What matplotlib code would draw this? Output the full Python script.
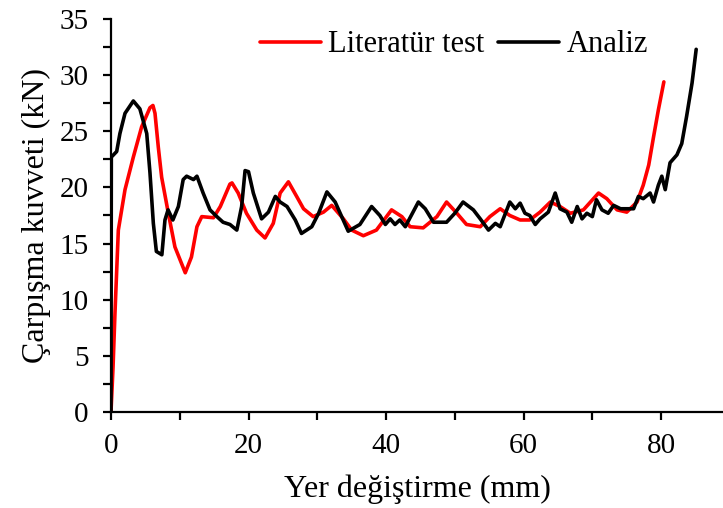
import numpy as np
import matplotlib.pyplot as plt

plt.rcParams['font.family'] = ['Liberation Serif', 'DejaVu Serif']

# Literatür test (red)
test_x = [0, 0.3, 0.58, 1.07, 2.04, 3.25, 4.46, 5.67, 6.1, 6.4, 6.88, 7.37, 8.34, 9.3, 10.8,
          11.7, 12.5, 13.2, 14.9, 15.9, 17.3, 17.6, 18.5, 19.7, 21.2, 22.4, 23.6, 24.6,
          25.8, 27.0, 28.0, 29.4, 30.9, 32.1, 33.8, 35.0, 36.7, 38.6, 40.8, 42.3, 43.5,
          45.4, 47.4, 48.8, 50.3, 51.7, 53.7, 55.1, 56.6, 58.0, 59.5, 60.9, 62.4, 63.9,
          65.3, 66.8, 68.7, 70.9, 72.1, 73.6, 75.0, 76.5, 77.4, 78.2, 78.9, 79.6, 80.4]
test_y = [0, 4.0, 8.8, 16.2, 19.8, 22.7, 25.4, 27.1, 27.3, 26.6, 23.6, 20.9, 17.7, 14.7, 12.4,
          13.8, 16.5, 17.4, 17.3, 18.3, 20.3, 20.4, 19.5, 17.7, 16.2, 15.5, 16.8, 19.5,
          20.5, 19.2, 18.1, 17.4, 17.8, 18.4, 17.2, 16.2, 15.7, 16.2, 18.0, 17.4, 16.5,
          16.4, 17.4, 18.7, 17.7, 16.7, 16.5, 17.4, 18.1, 17.5, 17.1, 17.1, 17.8, 18.7,
          18.3, 17.7, 18.0, 19.5, 19.0, 18.0, 17.8, 18.7, 20.2, 22.0, 24.5, 26.9, 29.4]

# Analiz (black)
analiz_x = [0, 0.05, 0.83, 1.3, 2.04, 3.25, 4.2, 5.2, 5.67, 6.16, 6.6, 7.4, 7.85, 8.3, 9.0,
            9.8, 10.5, 11.0, 12.0, 12.5, 13.4, 14.4, 15.4, 16.3, 17.3, 18.3, 19.0, 19.5,
            20.0, 20.7, 21.9, 22.9, 23.9, 24.6, 25.6, 26.8, 27.7, 29.2, 30.2, 31.4, 32.6,
            34.5, 36.2, 37.9, 39.1, 39.9, 40.6, 41.3, 42.0, 42.8, 44.7, 45.7, 46.9, 48.8,
            50.0, 51.2, 52.7, 53.7, 54.9, 55.9, 56.6, 58.0, 58.8, 59.5, 60.2, 60.9, 61.7,
            62.4, 63.6, 64.6, 65.3, 66.3, 67.0, 67.8, 68.5, 69.2, 70.0, 70.6, 71.4, 72.3,
            73.1, 74.1, 76.0, 76.7, 77.4, 78.4, 78.9, 79.6, 80.1, 80.6, 81.3, 82.3, 83.0,
            83.7, 84.5, 85.1]
analiz_y = [0, 22.7, 23.2, 24.8, 26.6, 27.7, 27.0, 24.8, 21.3, 16.8, 14.3, 14.0, 17.1, 18.0, 17.1,
            18.3, 20.7, 21.0, 20.7, 21.0, 19.5, 18.0, 17.4, 16.9, 16.7, 16.2, 18.3, 21.5,
            21.4, 19.5, 17.2, 17.8, 19.2, 18.7, 18.3, 17.1, 15.9, 16.5, 17.7, 19.6, 18.7,
            16.1, 16.7, 18.3, 17.5, 16.7, 17.2, 16.7, 17.1, 16.5, 18.7, 18.1, 16.9, 16.9,
            17.7, 18.7, 18.0, 17.2, 16.2, 16.8, 16.5, 18.7, 18.1, 18.6, 17.7, 17.5, 16.7,
            17.2, 17.8, 19.5, 18.1, 17.8, 16.9, 18.3, 17.2, 17.7, 17.4, 18.9, 18.0, 17.7,
            18.4, 18.1, 18.1, 19.2, 19.0, 19.5, 18.7, 20.2, 21.0, 19.8, 22.2, 22.9, 23.9,
            26.3, 29.3, 32.3]

fig = plt.figure(figsize=(7.23, 5.08), dpi=100)
ax = fig.add_axes([0.1535, 0.189, 0.8465, 0.7736])

ax.plot(test_x, test_y, color='#ff0000', lw=2.6, solid_joinstyle='round',
        solid_capstyle='round', label='Literatür test')
ax.plot(analiz_x, analiz_y, color='black', lw=2.6, solid_joinstyle='round',
        solid_capstyle='round', label='Analiz')

ax.set_xlim(0, 89)
ax.set_ylim(0, 35)
ax.set_xticks([0, 20, 40, 60, 80])
ax.set_xticks(np.arange(10, 90, 20), minor=True)
ax.set_yticks(np.arange(0, 36, 5))
ax.set_yticks(np.arange(2.5, 35, 5), minor=True)

for s in ['top', 'right']:
    ax.spines[s].set_visible(False)
for s in ['left', 'bottom']:
    ax.spines[s].set_linewidth(1.6)
ax.tick_params(which='both', direction='out', length=6, width=1.6, labelsize=21)
ax.tick_params(axis='y', pad=10)
ax.tick_params(axis='x', pad=9)

ax.set_xlabel('Yer değiştirme (mm)', fontsize=23, labelpad=11)
ax.set_ylabel('Çarpışma kuvveti (kN)', fontsize=23, labelpad=6)

ax.legend(loc='center', bbox_to_anchor=(0.628, 0.912), bbox_transform=fig.transFigure,
          ncol=2, frameon=False, fontsize=22, handlelength=2.0, handletextpad=0.25,
          columnspacing=0.45)

fig.savefig('out.png', dpi=100)
